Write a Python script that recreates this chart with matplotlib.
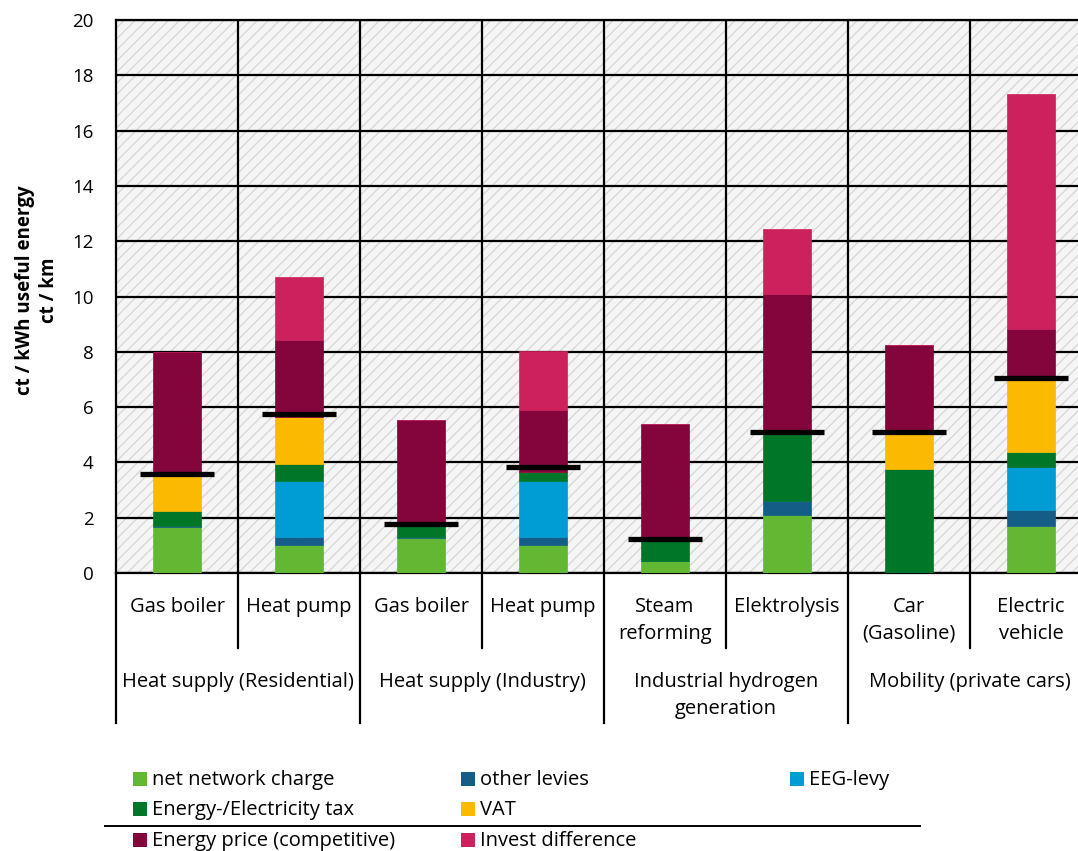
import matplotlib
matplotlib.use("Agg")
import matplotlib.pyplot as plt
from matplotlib.patches import Rectangle
import numpy as np

plt.rcParams['font.family'] = ['Open Sans', 'DejaVu Sans']
FS = 14.5

# technologies (lower label row) and sectors (upper label row)
techs = ["Gas boiler", "Heat pump", "Gas boiler", "Heat pump",
         "Steam\nreforming", "Elektrolysis", "Car\n(Gasoline)", "Electric\nvehicle"]
sectors = ["Heat supply (Residential)", "Heat supply (Industry)",
           "Industrial hydrogen\ngeneration", "Mobility (private cars)"]

# cost components in ct/kWh useful energy (ct/km for cars)
net_network = [1.65, 1.00, 1.25, 1.00, 0.43, 2.10, 0.00, 1.71]
other_levies = [0.05, 0.30, 0.05, 0.30, 0.00, 0.50, 0.00, 0.57]
eeg_levy = [0.00, 2.02, 0.00, 2.02, 0.00, 0.00, 0.00, 1.57]
energy_tax = [0.55, 0.64, 0.45, 0.33, 0.77, 2.45, 3.76, 0.51]
vat = [1.25, 1.68, 0.00, 0.00, 0.00, 0.00, 1.27, 2.68]
energy_price = [4.50, 2.80, 3.80, 2.24, 4.20, 5.04, 3.22, 1.78]
invest_diff = [0.00, 2.27, 0.00, 2.14, 0.00, 2.35, 0.00, 8.49]
# black marker per bar (total levies and charges level)
levy_level = [3.57, 5.76, 1.76, 3.82, 1.23, 5.11, 5.11, 7.06]

components = [
    ("net network charge", net_network, "#62b833"),
    ("other levies", other_levies, "#135d87"),
    ("EEG-levy", eeg_levy, "#009cd4"),
    ("Energy-/Electricity tax", energy_tax, "#007629"),
    ("VAT", vat, "#fbba00"),
    ("Energy price (competitive)", energy_price, "#83053b"),
    ("Invest difference", invest_diff, "#cd215e"),
]

W, H = 1078, 851
fig = plt.figure(figsize=(W / 100, H / 100), dpi=100)
# plot area runs a little past the right border of the figure
ax = fig.add_axes([116 / W, 1 - 573 / H, 976 / W, 553 / H])

x = np.arange(len(techs))
bottom = np.zeros(len(techs))
for name, vals, col in components:
    vals = np.array(vals)
    ax.bar(x, vals, width=0.39, bottom=bottom, color=col, zorder=3,
           edgecolor=col, linewidth=0.5)
    bottom += vals

ax.hlines(levy_level, x - 0.3, x + 0.3, color="black", linewidth=3.8, zorder=4)

# hatched background
ax.add_patch(Rectangle((0, 0), 1, 1, transform=ax.transAxes, facecolor="#f5f5f5",
                       edgecolor="#d8d8d8", hatch="///", linewidth=0, zorder=0))

ax.set_xlim(-0.5, 7.5)
ax.set_ylim(0, 20)
ax.set_yticks(np.arange(0, 21, 2))
ax.yaxis.grid(True, color="black", linewidth=1.6, zorder=1)
ax.set_axisbelow(True)
for b in np.arange(0.5, 7.5, 1):
    ax.axvline(b, color="black", linewidth=1.6, zorder=1)
for s in ax.spines.values():
    s.set_linewidth(1.6)
ax.set_xticks([])
ax.tick_params(axis="y", length=0, pad=16, labelsize=13.5)

# category table below the axis
trans = ax.get_xaxis_transform()
for b in np.arange(-0.5, 7.5, 1):
    group = int(b + 0.5) % 2 == 0
    ax.plot([b, b], [0, -0.271 if group else -0.136], color="black",
            linewidth=1.6, transform=trans, clip_on=False)
for i, t in enumerate(techs):
    ax.text(i, -0.043, t, transform=trans, ha="center", va="top",
            fontsize=FS, linespacing=1.48)
for j, s in enumerate(sectors):
    ax.text(2 * j + 0.5, -0.179, s, transform=trans, ha="center", va="top",
            fontsize=FS, linespacing=1.48)

fig.text(37 / W, 1 - 290 / H, "ct / kWh useful energy\nct / km", rotation=90,
         ha="center", va="center", fontsize=13.5, fontweight="bold",
         linespacing=1.25)

# legend laid out in three columns with a rule above the last row
cols = [133, 461, 790]
rows = [779, 809, 840]
slots = [(0, 0), (1, 0), (2, 0), (0, 1), (1, 1), (0, 2), (1, 2)]
for (name, vals, col), (c, r) in zip(components, slots):
    px, py = cols[c], rows[r]
    fig.add_artist(Rectangle((px / W, 1 - (py + 7) / H), 14 / W, 14 / H,
                             transform=fig.transFigure, facecolor=col,
                             edgecolor="none"))
    fig.text((px + 19) / W, 1 - (py + 1) / H, name, ha="left", va="center",
             fontsize=FS)
fig.add_artist(plt.Line2D([105 / W, 920 / W], [1 - 826 / H, 1 - 826 / H],
                          color="black", linewidth=1.4,
                          transform=fig.transFigure))

fig.savefig("out.png", dpi=100, facecolor="white")
